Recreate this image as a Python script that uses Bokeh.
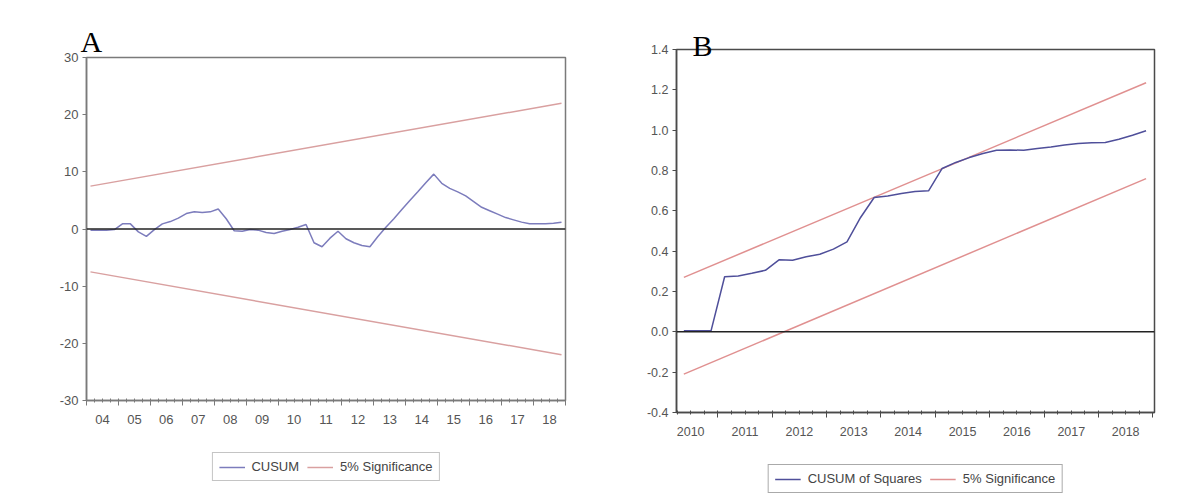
import pandas as pd
from bokeh.plotting import figure
from bokeh.layouts import row, column
from bokeh.models import (Range1d, LinearAxis, FixedTicker, CustomJSTickFormatter,
                          Span, Legend, LegendItem)
from bokeh.embed import file_html
from bokeh.resources import INLINE

# ---------------- Panel A : CUSUM ----------------
a_quarters = pd.period_range("2004Q1", "2018Q4", freq="Q")
a_cusum = [-0.2, -0.2, -0.2, -0.1, 0.9, 0.9, -0.5, -1.3, -0.1, 0.9,
           1.3, 1.9, 2.7, 3.0, 2.9, 3.0, 3.5, 1.8, -0.3, -0.4,
           -0.1, -0.2, -0.6, -0.8, -0.4, -0.1, 0.3, 0.8, -2.4, -3.1,
           -1.6, -0.4, -1.7, -2.4, -2.9, -3.1, -1.3, 0.3, 1.8, 3.4,
           5.0, 6.5, 8.1, 9.6, 8.0, 7.1, 6.5, 5.8, 4.8, 3.8,
           3.2, 2.6, 2.0, 1.6, 1.2, 0.9, 0.9, 0.9, 1.0, 1.2]
a_upper = [7.5, 22.0]      # 5% significance, first and last quarter
a_lower = [-7.5, -22.0]
a_years = list(range(2004, 2019))
a_tick_labels = ["04", "05", "06", "07", "08", "09", "10", "11", "12",
                 "13", "14", "15", "16", "17", "18"]
a_yticks = [-30, -20, -10, 0, 10, 20, 30]
a_ytick_labels = ["-30", "-20", "-10", "0", "10", "20", "30"]

# ---------------- Panel B : CUSUM of Squares ----------------
b_quarters = pd.period_range("2010Q2", "2018Q4", freq="Q")
b_cusumsq = [0.005, 0.005, 0.005, 0.273, 0.277, 0.290, 0.305, 0.357, 0.355, 0.372,
             0.385, 0.410, 0.446, 0.567, 0.666, 0.674, 0.686, 0.696, 0.699, 0.810,
             0.840, 0.864, 0.884, 0.900, 0.902, 0.900, 0.909, 0.917, 0.927, 0.934,
             0.937, 0.939, 0.955, 0.975, 0.997]
b_upper = [0.27, 1.235]
b_lower = [-0.21, 0.76]
b_years = list(range(2010, 2019))
b_tick_labels = ["2010", "2011", "2012", "2013", "2014", "2015", "2016", "2017", "2018"]
b_yticks = [-0.4, -0.2, 0.0, 0.2, 0.4, 0.6, 0.8, 1.0, 1.2, 1.4]
b_ytick_labels = ["-0.4", "-0.2", "0.0", "0.2", "0.4", "0.6", "0.8", "1.0", "1.2", "1.4"]


def qmid(q):
    return q.year + (q.quarter - 1) * 0.25 + 0.125


def no_align(p):
    try:
        p.frame_align = False
    except Exception:
        pass


def make_panel(quarters, values, upper, lower, years, tick_labels, yticks, ytick_labels,
               xr, yr, width, height, mins, frame_col, main_col, sig_col, font_px,
               legend_names, legend_font, legend_h, legend_margin, letter, letter_offset,
               letter_standoff, legend_border):
    ml, mr, mt, mb = mins
    p = figure(width=width, height=height, x_range=Range1d(*xr), y_range=Range1d(*yr),
               output_backend="svg", toolbar_location=None, x_axis_location=None,
               min_border_left=ml, min_border_right=mr, min_border_top=mt,
               min_border_bottom=mb)
    no_align(p)
    p.xgrid.visible = False
    p.ygrid.visible = False
    p.outline_line_color = frame_col
    p.outline_line_width = 1.5
    p.background_fill_color = "white"
    p.border_fill_color = "white"

    # y axis
    ya = p.yaxis[0]
    ya.ticker = FixedTicker(ticks=yticks, minor_ticks=[])
    ya.formatter = CustomJSTickFormatter(args=dict(labels=ytick_labels),
                                         code="return labels[index];")
    ya.axis_line_color = frame_col
    ya.axis_line_width = 1.5
    ya.major_tick_line_color = frame_col
    ya.major_tick_out = 4
    ya.major_tick_in = 0
    ya.major_label_standoff = 4
    ya.major_label_text_font = "Liberation Sans"
    ya.major_label_text_font_size = font_px
    ya.major_label_text_color = "#555555"

    # x axis: year-boundary ticks + quarterly minor ticks
    bounds = [y for y in years + [years[-1] + 1] if xr[0] <= y <= xr[1]]
    minors = [y + k * 0.25 for y in range(years[0], years[-1] + 1) for k in range(4)]
    minors = [m for m in minors if xr[0] <= m <= xr[1]]
    ax1 = LinearAxis(ticker=FixedTicker(ticks=bounds, minor_ticks=minors),
                     formatter=CustomJSTickFormatter(code="return '';"),
                     axis_line_color=frame_col, axis_line_width=1.5,
                     major_tick_line_color=frame_col, minor_tick_line_color=frame_col,
                     major_tick_out=5, major_tick_in=0, minor_tick_in=2, minor_tick_out=2,
                     major_label_standoff=0, major_label_text_font_size="1px")
    p.add_layout(ax1, "below")
    mids = [y + 0.5 for y in years]
    ax2 = LinearAxis(ticker=FixedTicker(ticks=mids, minor_ticks=[]),
                     formatter=CustomJSTickFormatter(args=dict(labels=tick_labels),
                                                     code="return labels[index];"),
                     axis_line_color=None, major_tick_line_color=None,
                     minor_tick_line_color=None, major_label_standoff=3,
                     major_label_text_font="Liberation Sans",
                     major_label_text_font_size=font_px,
                     major_label_text_color="#555555")
    p.add_layout(ax2, "below")

    x = [qmid(q) for q in quarters]
    p.add_layout(Span(location=0, dimension="width", line_color="#222222", line_width=1.5))
    p.line([x[0], x[-1]], upper, line_color=sig_col, line_width=1.5)
    p.line([x[0], x[-1]], lower, line_color=sig_col, line_width=1.5)
    p.line(x, values, line_color=main_col, line_width=1.5)

    # panel letter
    p.title.text = letter
    p.title.text_font = "Liberation Serif"
    p.title.text_font_size = "30px"
    p.title.text_font_style = "normal"
    p.title.text_color = "black"
    p.title.align = "left"
    p.title.offset = letter_offset
    p.title.standoff = letter_standoff

    # legend strip below the chart (sample lines lie outside the strip's range)
    lg = figure(width=width, height=legend_h, x_range=Range1d(0, 1), y_range=Range1d(0, 1),
                output_backend="svg", toolbar_location=None, x_axis_location=None,
                y_axis_location=None, min_border_left=ml, min_border_right=mr,
                min_border_top=0, min_border_bottom=0)
    no_align(lg)
    lg.xgrid.visible = False
    lg.ygrid.visible = False
    lg.outline_line_color = None
    lg.border_fill_color = "white"
    d_main = lg.line(x=[5, 6], y=[5, 6], line_color=main_col, line_width=1.5)
    d_sig = lg.line(x=[5, 6], y=[5, 6], line_color=sig_col, line_width=1.5)
    leg = Legend(items=[LegendItem(label=legend_names[0], renderers=[d_main]),
                        LegendItem(label=legend_names[1], renderers=[d_sig])],
                 orientation="horizontal", location="top", margin=legend_margin,
                 padding=6, spacing=8, glyph_width=26, glyph_height=12,
                 label_height=12, label_standoff=7,
                 label_text_font="Liberation Sans", label_text_font_size=legend_font,
                 label_text_color="#444444", border_line_color=legend_border,
                 border_line_width=1.5, background_fill_alpha=1.0)
    lg.add_layout(leg, "center")
    return column(p, lg, spacing=0)


pa = make_panel(a_quarters, a_cusum, a_upper, a_lower, a_years, a_tick_labels, a_yticks,
                a_ytick_labels, (2004.0, 2019.0), (-30, 30), 598, 444, (86, 33, 57, 44),
                "#7a7a7a", "#7c7cbc", "#d9a0a0", "13px",
                ["CUSUM", "5% Significance"], "13px", 54, 8, "A", -6, 0, "#8a8a8a")
pb = make_panel(b_quarters, b_cusumsq, b_upper, b_lower, b_years, b_tick_labels, b_yticks,
                b_ytick_labels, (2010.24, 2019.03), (-0.4, 1.4), 588, 456, (78, 32, 49, 44),
                "#4a4a4a", "#4f4f9a", "#e09090", "12.5px",
                ["CUSUM of Squares", "5% Significance"], "13px", 42, 8, "B", 16, -25,
                "#555555")

layout = row(pa, pb, spacing=0)
open("out.html", "w").write(file_html(layout, INLINE))
